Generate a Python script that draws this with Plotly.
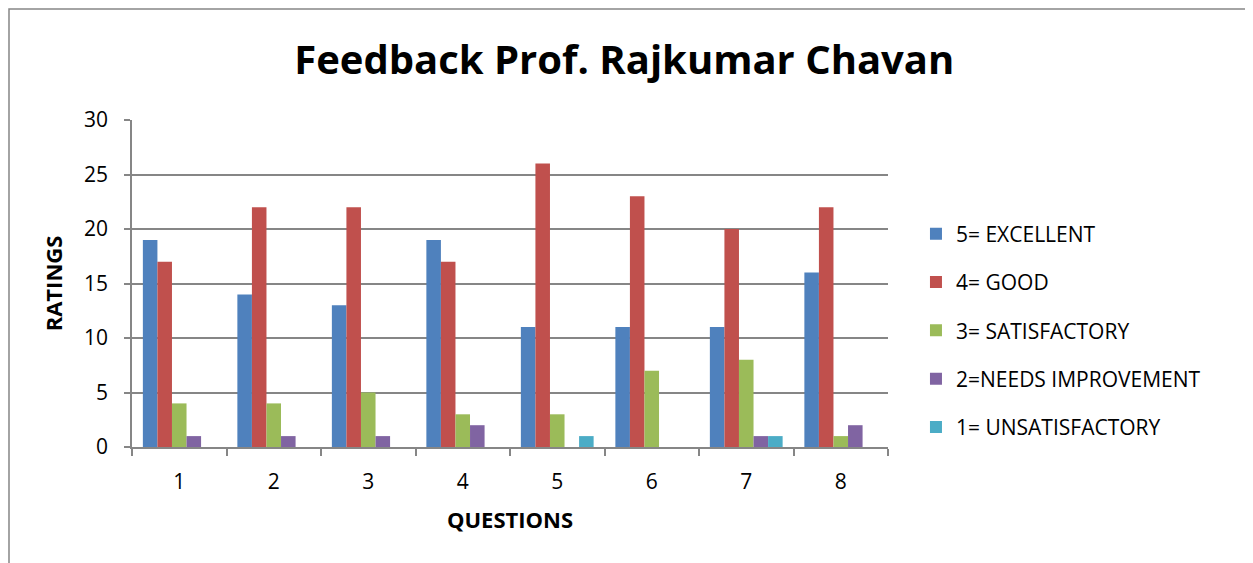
import plotly.graph_objects as go

questions = ["1", "2", "3", "4", "5", "6", "7", "8"]
series_names = ["5= EXCELLENT", "4= GOOD", "3= SATISFACTORY", "2=NEEDS IMPROVEMENT", "1= UNSATISFACTORY"]
excellent = [19, 14, 13, 19, 11, 11, 11, 16]
good = [17, 22, 22, 17, 26, 23, 20, 22]
satisfactory = [4, 4, 5, 3, 3, 7, 8, 1]
needs_improvement = [1, 1, 1, 2, 0, 0, 1, 2]
unsatisfactory = [0, 0, 0, 0, 1, 0, 1, 0]
colors = ["#4F81BD", "#C0504D", "#9BBB59", "#8064A2", "#4BACC6"]
y_ticks = [0, 5, 10, 15, 20, 25, 30]

values = [excellent, good, satisfactory, needs_improvement, unsatisfactory]

font_family = "Open Sans, Liberation Sans, sans-serif"

fig = go.Figure()
for i, (name, vals, col) in enumerate(zip(series_names, values, colors)):
    fig.add_trace(go.Bar(
        x=questions, y=vals, name=name,
        marker=dict(color=col, line=dict(width=0)),
        legendgroup=f"g{i}",
    ))

fig.update_layout(
    width=1245, height=555,
    margin=dict(l=124, r=365, t=112, b=116),
    paper_bgcolor="white", plot_bgcolor="white",
    barmode="group", bargap=0.23, bargroupgap=0,
    font=dict(family=font_family, color="black"),
    title=dict(text="<b>Feedback Prof. Rajkumar Chavan</b>", x=0.495, xanchor="center",
               y=0.906, yanchor="middle", font=dict(size=40, family=font_family)),
    xaxis=dict(
        type="category", showline=True, linecolor="#868686", linewidth=1.5,
        ticks="outside", tickson="boundaries", ticklen=7, tickcolor="#868686", tickwidth=1.5,
        tickfont=dict(size=21), showgrid=False, ticklabelstandoff=15,
        title=dict(text="<b>QUESTIONS</b>", font=dict(size=22), standoff=19),
    ),
    yaxis=dict(
        range=[0, 30], tickvals=y_ticks, showline=True, linecolor="#868686", linewidth=1.5,
        ticks="outside", ticklen=6, tickcolor="#868686", tickwidth=1.5,
        showgrid=True, gridcolor="#868686", gridwidth=1.5, zeroline=False,
        tickfont=dict(size=21), ticklabelstandoff=12,
        title=dict(text="<b>RATINGS</b>", font=dict(size=22), standoff=15),
    ),
    legend=dict(x=1.037, y=0.356, xanchor="left", yanchor="middle",
                font=dict(size=21), tracegroupgap=18, itemwidth=30,
                bgcolor="rgba(0,0,0,0)"),
    shapes=[dict(type="rect", xref="paper", yref="paper",
                 x0=-0.1627, x1=1.4802, y0=-0.40, y1=1.3394,
                 line=dict(color="#868686", width=1.5), layer="below")],
)

fig.write_html("out.html")
